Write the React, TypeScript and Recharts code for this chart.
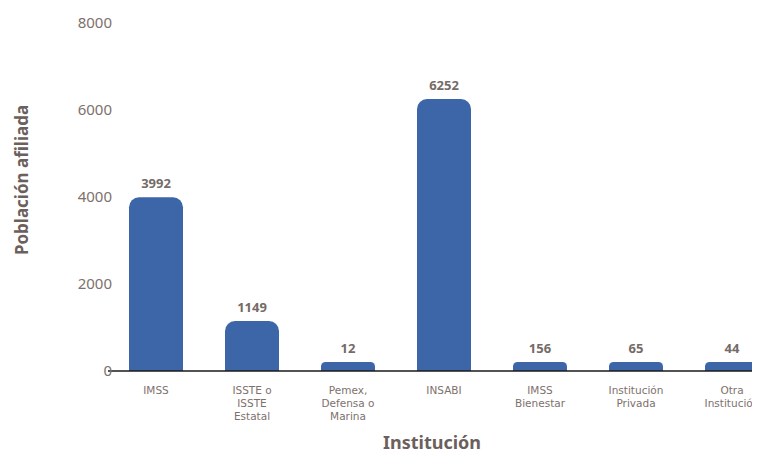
import { Bar, BarChart, LabelList, XAxis, YAxis, Label } from "recharts";

const categories = [
  "IMSS",
  "ISSTE o\nISSTE\nEstatal",
  "Pemex,\nDefensa o\nMarina",
  "INSABI",
  "IMSS\nBienestar",
  "Institución\nPrivada",
  "Otra\nInstitución",
];
const afiliados = [3992, 1149, 12, 6252, 156, 65, 44];
const yTicks = [0, 2000, 4000, 6000, 8000];

const data = categories.map((name, i) => ({ name, value: afiliados[i] }));

const FONT = "'Noto Sans', sans-serif";
const GREY = "#7d716c";

// multi-line category labels, one <text> per line
function CategoryTick(props: any) {
  const { x, y, payload } = props;
  const lines = String(payload.value).split("\n");
  return (
    <g transform={`translate(${x},${y})`}>
      {lines.map((l, i) => (
        <text
          key={i}
          x={0}
          y={15 + i * 13}
          textAnchor="middle"
          fill={GREY}
          fontSize={10.5}
          fontFamily="'DejaVu Sans', sans-serif"
        >
          {l}
        </text>
      ))}
    </g>
  );
}

export default function App() {
  return (
    <div style={{ width: 780, height: 447, background: "#fff" }}>
      <BarChart
        width={780}
        height={447}
        data={data}
        margin={{ top: 15, right: 8, left: 0, bottom: 0 }}
        barSize={54}
      >
        <XAxis
          dataKey="name"
          interval={0}
          tickLine={false}
          axisLine={{ stroke: "#1a1a1a", strokeWidth: 1.5 }}
          tick={<CategoryTick />}
          height={84}
        >
          <Label
            value="Institución"
            position="insideBottom"
            offset={6}
            dx={-12}
            fill="#6b605c"
            fontSize={18}
            fontWeight="bold"
            fontFamily={FONT}
          />
        </XAxis>
        <YAxis
          width={100}
          domain={[0, 8000]}
          ticks={yTicks}
          axisLine={false}
          tickLine={false}
          tickSize={0}
          tickMargin={-4}
          tick={{ fill: GREY, fontSize: 15, fontFamily: FONT }}
        >
          <Label
            value="Población afiliada"
            angle={-90}
            position="center"
            dx={-36}
            dy={-17}
            fill="#6b605c"
            fontSize={17}
            fontWeight="bold"
            fontFamily={FONT}
          />
        </YAxis>
        <Bar
          dataKey="value"
          fill="#3d66a8"
          radius={[10, 10, 0, 0]}
          minPointSize={9}
          isAnimationActive={false}
        >
          <LabelList
            dataKey="value"
            position="top"
            offset={9}
            fill="#756b67"
            fontSize={13}
            fontWeight="bold"
            fontFamily={FONT}
          />
        </Bar>
      </BarChart>
    </div>
  );
}
